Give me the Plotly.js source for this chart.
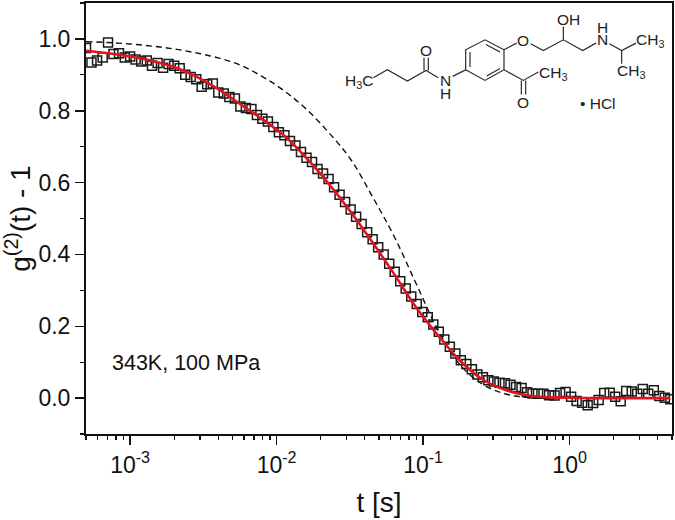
<!DOCTYPE html>
<html><head><meta charset="utf-8">
<script src="https://cdn.plot.ly/plotly-3.0.1.min.js"></script>
<style>html,body{margin:0;padding:0;background:#fff}</style>
</head><body><div id="chart" style="width:675px;height:520px"></div>
<script>
const tMeasured = [
.0005,.000545,.000595,.00065,.000707,.00077,.00084,.00092,
.001,.00109,.00119,.0013,.00141,.00154,.00168,.00183,
.002,.00218,.00238,.00259,.00283,.00308,.00336,.00367,
.004,.00436,.00476,.00519,.00566,.00617,.00673,.00734,
.008,.00872,.00951,.01037,.01131,.01234,.01345,.01467,
.016,.01745,.01903,.02075,.02263,.02468,.02691,.02934,
.032,.0349,.03805,.0415,.04525,.04935,.05382,.05869,
.064,.0698,.0761,.083,.0905,.0987,.1076,.1174,
.128,.1396,.1522,.166,.181,.1974,.2153,.2348,
.256,.279,.304,.332,.362,.395,.431,.47,
.512,.558,.609,.664,.724,.79,.861,.939,
1.024,1.117,1.218,1.328,1.448,1.579,1.722,1.878,
2.048,2.233,2.435,2.656,2.896,3.158,3.444,3.756,
4.096,4.467,4.871];
const gMeasured = [
.975,.934,.94,.948,.99,.958,.96,.948,
.951,.943,.937,.94,.925,.933,.92,.93,
.925,.918,.9,.894,.888,.867,.874,.876,
.851,.848,.838,.834,.812,.808,.805,.788,
.778,.77,.755,.74,.732,.716,.703,.685,
.669,.657,.638,.625,.61,.587,.566,.546,
.525,.505,.485,.462,.442,.42,.4,.374,
.352,.325,.305,.283,.262,.24,.225,.205,
.185,.163,.143,.124,.105,.095,.08,.066,
.058,.05,.046,.043,.041,.037,.031,.028,
.016,.013,.012,.012,.008,.007,.014,.017,
.004,-.008,-.013,-.02,-.014,-.005,.014,.015,
.004,-.009,.02,.018,.012,.025,.012,.022,
.006,.001,-.003];
const tCurve = [.0005,.000707,.001,.00141,.002,.00283,.004,.00566,.008,.01131,.016,.02263,.032,.04525,.064,.0905,.128,.181,.256,.362,.512,.724,1.024,1.448,2.048,3.158,4.871];
const gFit = [.967,.96,.951,.939,.922,.895,.86,.818,.776,.73,.668,.597,.519,.433,.343,.25,.172,.102,.051,.023,.008,.002,.001,0,0,0,0];
const gDashed = [.992,.99,.986,.98,.972,.961,.947,.927,.895,.855,.804,.74,.665,.56,.447,.315,.185,.09,.038,.012,.002,0,0,0,0,0,0];
const xTickVals = [.001,.01,.1,1];
const xTickText = ['10<sup>-3</sup>','10<sup>-2</sup>','10<sup>-1</sup>','10<sup>0</sup>'];

const FONT = '"Liberation Sans", Arial, sans-serif';
const L=86,R=672,T=2.5,B=434;
const zx = v => (330+v/3-L)/(R-L);
const zy = v => (B-v/3)/(B-T);
const bonds = [
 [[130,232],[172,208],[232,242],[288,210],[325,232]],
 [[282,210],[282,172]],[[295,210],[295,172]],
 [[368,228],[407,208],[407,148],[465,118],[522,148],[522,208],[465,240],[407,208]],
 [[420,200],[420,155]],[[468,132],[510,155]],[[470,227],[510,204]],
 [[522,148],[560,128]],[[602,130],[640,150],[700,118],[758,150],[798,128]],
 [[700,118],[700,78]],[[838,130],[875,150],[918,128]],[[875,150],[875,190]],
 [[522,208],[580,240],[625,215]],[[574,240],[574,282]],[[587,240],[587,282]]
];
const shapes = bonds.map(b=>({type:'path',xref:'paper',yref:'paper',
  path:b.map((p,i)=>(i?'L':'M')+zx(p[0]).toFixed(4)+','+zy(p[1]).toFixed(4)).join(' '),
  line:{color:'#2a2a2a',width:1.2}}));
const labels = [['H<sub>3</sub>C',88,243],['O',288,150],['N',345,240],['H',345,280],['O',580,120],
 ['OH',715,56],['H',818,80],['N',818,118],['CH<sub>3</sub>',960,120],['CH<sub>3</sub>',903,213],
 ['CH<sub>3</sub>',668,218],['O',580,305],['• HCl',805,308]];
const annotations = labels.map(a=>({text:a[0],xref:'paper',yref:'paper',x:zx(a[1]),y:zy(a[2]),
  showarrow:false,xanchor:'center',yanchor:'middle',font:{family:FONT,size:15.5,color:'#222'}}));
annotations.push({text:'343K, 100 MPa',xref:'paper',yref:'paper',x:(110-L)/(R-L),y:(B-363)/(B-T),
  showarrow:false,xanchor:'left',yanchor:'middle',font:{family:FONT,size:21.5,color:'#111'}});

Plotly.newPlot('chart',[
 {x:tCurve,y:gDashed,mode:'lines',line:{color:'#111',width:1.4,dash:'6px,4px',shape:'spline'}},
 {x:tMeasured,y:gMeasured,mode:'markers',marker:{symbol:'square-open',size:9,color:'#1a1a1a',line:{width:1.5,color:'#1a1a1a'}}},
 {x:tCurve,y:gFit,mode:'lines',line:{color:'#e0141e',width:2.6,shape:'spline'}}
],{
 width:675,height:520,showlegend:false,paper_bgcolor:'#fff',plot_bgcolor:'#fff',
 margin:{l:L,r:675-R,t:T,b:520-B,pad:0},
 font:{family:FONT,color:'#111'},
 xaxis:{type:'log',range:[Math.log10(5e-4),Math.log10(5)],tickmode:'array',tickvals:xTickVals,ticktext:xTickText,
   ticks:'outside',ticklen:9,tickwidth:1.5,tickcolor:'#111',showgrid:false,zeroline:false,
   showline:true,linecolor:'#111',linewidth:2,mirror:true,tickfont:{size:23},
   minor:{ticks:'outside',ticklen:4,tickwidth:1.3,tickcolor:'#111',dtick:'D1',showgrid:false},
   title:{text:'t [s]',font:{size:28},standoff:16}},
 yaxis:{range:[-.1,1.1],tick0:0,dtick:.2,tickformat:'.1f',
   ticks:'outside',ticklen:9,tickwidth:1.5,tickcolor:'#111',showgrid:false,zeroline:false,
   showline:true,linecolor:'#111',linewidth:2,mirror:true,tickfont:{size:23},
   minor:{ticks:'outside',ticklen:4,tickwidth:1.3,tickcolor:'#111',dtick:.1,showgrid:false},
   title:{text:'g<sup>(2)</sup>(t) - 1',font:{size:28},standoff:9}},
 shapes,annotations
},{displayModeBar:false,staticPlot:true});
</script></body></html>
